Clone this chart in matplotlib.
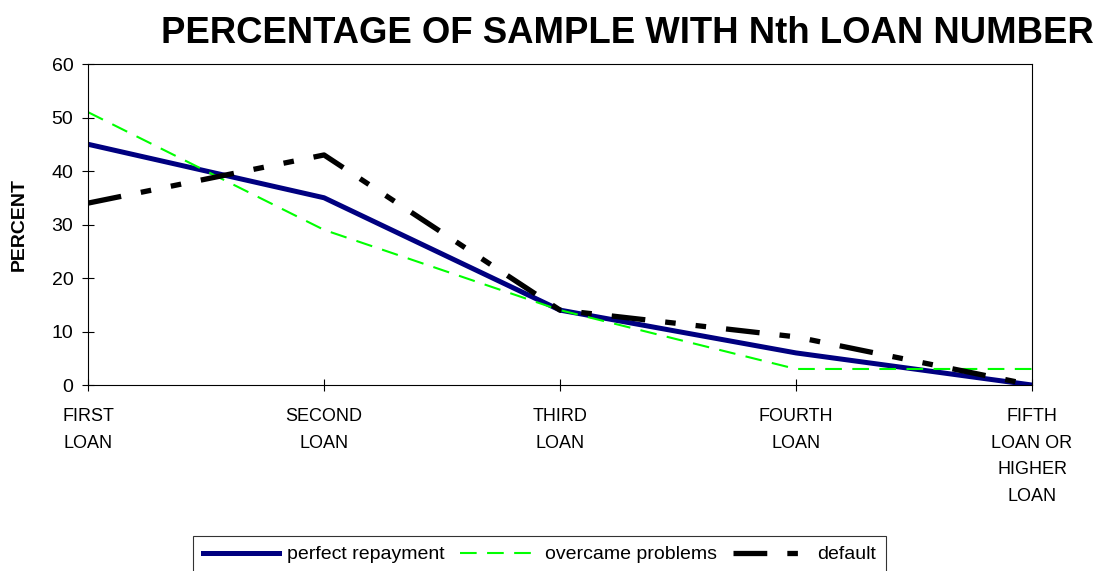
import matplotlib.pyplot as plt

plt.rcParams['font.family'] = ['Liberation Sans', 'DejaVu Sans']

# data
CATEGORIES = ["FIRST\nLOAN", "SECOND\nLOAN", "THIRD\nLOAN", "FOURTH\nLOAN", "FIFTH\nLOAN OR\nHIGHER\nLOAN"]
PERFECT = [45, 35, 14, 6, 0]
OVERCAME = [51, 29, 14, 3, 3]
DEFAULT = [34, 43, 14, 9, 0]
Y_TICKS = [0, 10, 20, 30, 40, 50, 60]

fig = plt.figure(figsize=(11.06, 5.71), dpi=100)
ax = fig.add_axes([0.0796, 0.3257, 0.8535, 0.5622])

x = list(range(len(CATEGORIES)))
ax.plot(x, PERFECT, color="#000080", linewidth=3.6, label="perfect repayment")
ax.plot(x, OVERCAME, color="#00FF00", linewidth=1.5, linestyle=(0, (8, 5)), label="overcame problems")
ax.plot(x, DEFAULT, color="black", linewidth=3.8, linestyle=(0, (6.4, 3.8, 2, 3.8, 2, 3.8)),
        label="default")

ax.set_xlim(0, len(CATEGORIES) - 1)
ax.set_ylim(0, 60)
ax.set_yticks(Y_TICKS)
ax.set_xticks(x)
ax.set_xticklabels(CATEGORIES, fontsize=13, linespacing=1.75)
ax.tick_params(axis='y', labelsize=14, direction='inout', length=9, width=0.8, pad=6)
ax.tick_params(axis='x', direction='inout', length=9, width=0.8, pad=12)
for s in ax.spines.values():
    s.set_linewidth(0.8)

fig.text(19 / 1106, 0.6077, "PERCENT", fontsize=14, fontweight='bold', rotation=90,
         ha='center', va='center')
fig.text(0.567, 0.942, "PERCENTAGE OF SAMPLE WITH Nth LOAN NUMBER", fontsize=26.3,
         fontweight='bold', ha='center', va='center')

leg = fig.legend(loc='upper left', bbox_to_anchor=(0.1745, 0.0613), ncol=3, fontsize=14,
                 frameon=True, fancybox=False, edgecolor='black', handlelength=3.9,
                 handletextpad=0.45, columnspacing=0.8, borderpad=0.5, borderaxespad=0)
leg.get_frame().set_linewidth(0.8)

fig.savefig("out.png", dpi=100)
